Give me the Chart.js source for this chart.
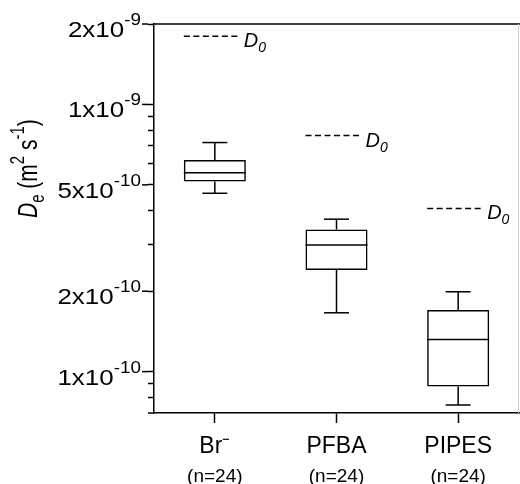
<!DOCTYPE html>
<html lang="en">
<head>
<meta charset="UTF-8">
<title>Effective diffusion coefficients</title>
<style>
  html, body { margin: 0; padding: 0; background: #fff; }
</style>
</head>
<body>
<canvas id="myChart" width="520" height="484"></canvas>

<script src="https://cdn.jsdelivr.net/npm/chart.js@4.4.1/dist/chart.umd.min.js"></script>
<script>
// data (m2/s)
var categories   = ['Br\u207B', 'PFBA', 'PIPES'];
var sampleLabels = ['(n=24)', '(n=24)', '(n=24)'];
var whiskerLow   = [4.65e-10, 1.66e-10, 7.5e-11];
var quartile1    = [5.15e-10, 2.4e-10, 8.8e-11];
var median       = [5.55e-10, 2.98e-10, 1.32e-10];
var quartile3    = [6.2e-10, 3.4e-10, 1.7e-10];
var whiskerHigh  = [7.2e-10, 3.72e-10, 1.99e-10];
var d0Values     = [1.8e-9, 7.65e-10, 4.08e-10];

var yMajorTicks = [1e-10, 2e-10, 5e-10, 1e-9, 2e-9];
var yMinorTicks = [8e-11, 9e-11, 3e-10, 4e-10, 6e-10, 7e-10, 8e-10, 9e-10];
var yMin = 7e-11;
var yMax = 2e-9;

var FONT = '"Liberation Sans", Arial, Helvetica, sans-serif';

function line(ctx, x1, y1, x2, y2) {
    ctx.beginPath();
    ctx.moveTo(x1, y1);
    ctx.lineTo(x2, y2);
    ctx.stroke();
}

var boxExtras = {
    id: 'boxExtras',
    afterDatasetsDraw: function(chart) {
        var ctx = chart.ctx;
        var xs = chart.scales.x, ys = chart.scales.y;
        var bars = chart.getDatasetMeta(0).data;
        ctx.save();
        ctx.strokeStyle = '#000';
        ctx.fillStyle = '#000';
        ctx.lineWidth = 1.5;
        for (var i = 0; i < categories.length; i++) {
            var cx = xs.getPixelForValue(i);
            var half = bars[i].width / 2;
            var yLo = ys.getPixelForValue(whiskerLow[i]);
            var yQ1 = ys.getPixelForValue(quartile1[i]);
            var yMed = ys.getPixelForValue(median[i]);
            var yQ3 = ys.getPixelForValue(quartile3[i]);
            var yHi = ys.getPixelForValue(whiskerHigh[i]);

            // whiskers and caps
            line(ctx, cx, yQ3, cx, yHi);
            line(ctx, cx - 12.5, yHi, cx + 12.5, yHi);
            line(ctx, cx, yQ1, cx, yLo);
            line(ctx, cx - 12.5, yLo, cx + 12.5, yLo);
            // median
            line(ctx, cx - half, yMed, cx + half, yMed);

            // free-water diffusion coefficient
            var yD = ys.getPixelForValue(d0Values[i]);
            ctx.setLineDash([6, 3.5]);
            line(ctx, cx - 31, yD, cx + 25, yD);
            ctx.setLineDash([]);
            ctx.textAlign = 'left';
            ctx.textBaseline = 'alphabetic';
            ctx.font = 'italic 20px ' + FONT;
            ctx.fillText('D', cx + 29, yD + 11);
            var wD = ctx.measureText('D').width;
            ctx.font = 'italic 14px ' + FONT;
            ctx.fillText('0', cx + 29 + wD, yD + 16);
        }
        ctx.restore();
    },
    afterDraw: function(chart) {
        var ctx = chart.ctx;
        var a = chart.chartArea;
        var ys = chart.scales.y;
        ctx.save();
        ctx.strokeStyle = '#000';
        ctx.fillStyle = '#000';
        ctx.lineWidth = 1.5;

        // frame top, faint right edge, short overhang of x axis
        line(ctx, a.left, a.top, chart.width, a.top);
        line(ctx, a.left - 6, a.bottom, a.left, a.bottom);
        ctx.strokeStyle = '#d0d0d0';
        ctx.lineWidth = 1;
        line(ctx, a.right - 0.5, a.top, a.right - 0.5, a.bottom);
        ctx.strokeStyle = '#000';
        ctx.lineWidth = 1.5;

        // longer major ticks + labels like 2x10^-9
        var sx = 1.18;
        yMajorTicks.forEach(function(v) {
            var py = ys.getPixelForValue(v);
            line(ctx, a.left - 12, py, a.left - 6, py);
            var e = Math.floor(Math.log10(v) + 1e-9);
            var m = Math.round(v / Math.pow(10, e));
            var base = m + 'x10';
            var sup = '-' + (-e);
            ctx.font = '22px ' + FONT;
            var w1 = ctx.measureText(base).width;
            ctx.font = '16px ' + FONT;
            var w2 = ctx.measureText(sup).width;
            ctx.save();
            ctx.translate(a.left - 13, py);
            ctx.scale(sx, 1);
            ctx.textAlign = 'left';
            ctx.textBaseline = 'alphabetic';
            ctx.font = '22px ' + FONT;
            ctx.fillText(base, -(w1 + w2), 13);
            ctx.font = '16px ' + FONT;
            ctx.fillText(sup, -w2, 1);
            ctx.restore();
        });

        // y title: De (m2 s-1)
        var parts = [
            { t: 'D', f: 'italic 21px', dy: 0 },
            { t: 'e', f: '15px', dy: 5 },
            { t: ' (m', f: '21px', dy: 0 },
            { t: '2', f: '15px', dy: -10 },
            { t: ' s', f: '21px', dy: 0 },
            { t: '-1', f: '15px', dy: -10 },
            { t: ')', f: '21px', dy: 0 }
        ];
        ctx.save();
        ctx.translate(37, 218);
        ctx.rotate(-Math.PI / 2);
        ctx.scale(1, 1.35);
        ctx.textAlign = 'left';
        ctx.textBaseline = 'alphabetic';
        var px = 0;
        parts.forEach(function(p) {
            ctx.font = p.f + ' ' + FONT;
            ctx.fillText(p.t, px, p.dy);
            px += ctx.measureText(p.t).width;
        });
        ctx.restore();
        ctx.restore();
    }
};

var boxData = categories.map(function(c, i) {
    return [quartile1[i], quartile3[i]];
});

var ctx = document.getElementById('myChart').getContext('2d');
var chart = new Chart(ctx, {
    type: 'bar',
    data: {
        labels: categories,
        datasets: [{
            data: boxData,
            backgroundColor: 'rgba(255,255,255,0)',
            borderColor: '#000',
            borderWidth: 1.5,
            borderSkipped: false,
            categoryPercentage: 1,
            barPercentage: 0.51,
            xAxisID: 'x',
            yAxisID: 'y'
        }]
    },
    options: {
        responsive: false,
        animation: false,
        layout: { padding: { top: 24, right: 1, left: 0, bottom: 0 } },
        plugins: {
            legend: { display: false },
            tooltip: { enabled: false }
        },
        scales: {
            x: {
                type: 'category',
                position: 'bottom',
                weight: 0,
                offset: true,
                grid: { offset: false, drawOnChartArea: false, tickLength: 10, tickColor: '#000', tickWidth: 1.5 },
                border: { display: true, color: '#000', width: 1.5 },
                ticks: { color: '#000', font: { family: FONT, size: 23 }, padding: 10, maxRotation: 0, autoSkip: false },
                afterFit: function(s) { s.height = 41; }
            },
            x2: {
                type: 'category',
                position: 'bottom',
                weight: 1,
                labels: sampleLabels,
                offset: true,
                grid: { display: false },
                border: { display: false },
                ticks: { color: '#000', font: { family: FONT, size: 19 }, padding: 3, maxRotation: 0, autoSkip: false },
                afterFit: function(s) { s.height = 30; }
            },
            y: {
                type: 'logarithmic',
                position: 'left',
                min: yMin,
                max: yMax,
                afterBuildTicks: function(s) {
                    s.ticks = yMinorTicks.concat(yMajorTicks)
                        .sort(function(p, q) { return p - q; })
                        .map(function(v) { return { value: v }; });
                },
                ticks: { callback: function() { return ''; }, autoSkip: false },
                grid: { drawOnChartArea: false, tickLength: 6, tickColor: '#000', tickWidth: 1.5 },
                border: { display: true, color: '#000', width: 1.5 },
                afterFit: function(s) { s.width = 154; }
            }
        }
    },
    plugins: [boxExtras]
});
</script>
</body>
</html>
